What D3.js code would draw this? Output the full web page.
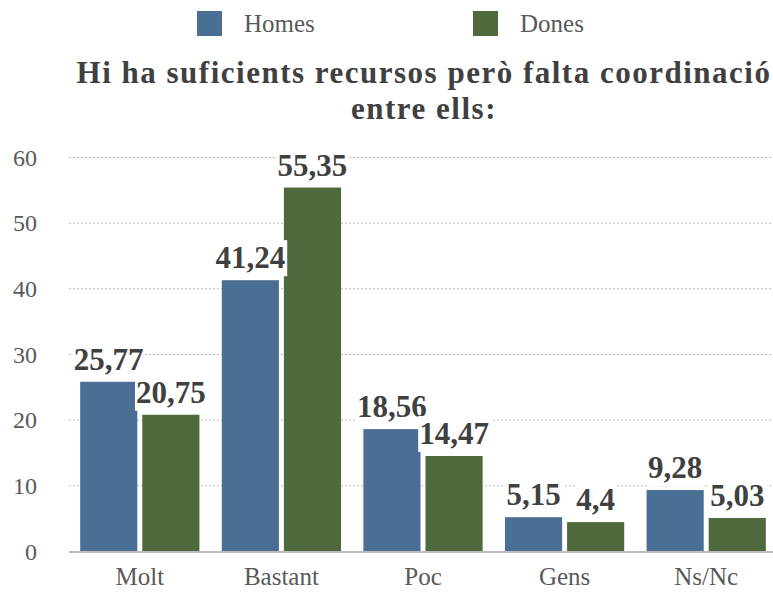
<!DOCTYPE html>
<html><head><meta charset="utf-8">
<script src="https://cdn.jsdelivr.net/npm/d3@7"></script>
<style>body{margin:0;background:#fff}svg{display:block}
svg text{font-family:"Liberation Serif","Tinos","Times New Roman",serif}</style>
</head><body><svg id="c" width="773" height="592"></svg>
<script>
const categories = ["Molt","Bastant","Poc","Gens","Ns/Nc"];
const seriesNames = ["Homes","Dones"];
const homes = [25.77, 41.24, 18.56, 5.15, 9.28];
const dones = [20.75, 55.35, 14.47, 4.4, 5.03];
const yTicks = [0,10,20,30,40,50,60];
const colors = ["#4a6e94","#4e693b"];
const titleLines = ["Hi ha suficients recursos però falta coordinació","entre ells:"];

const svg = d3.select("#c");
const x = d3.scaleBand().domain(categories).range([69, 777]);
const xs = d3.scaleBand().domain(seriesNames).range([0, x.bandwidth()]).paddingInner(0.08).paddingOuter(0.18);
const y = d3.scaleLinear().domain([0,60]).range([551,157]);

// y axis labels
const ga = svg.append("g").call(d3.axisLeft(y).tickValues(yTicks).tickSize(0).tickFormat(d=>d));
ga.select(".domain").remove();
ga.selectAll("text").attr("x",37).attr("dy","8px").attr("text-anchor","end")
  .attr("font-size",24).attr("fill","#595959");

// gridlines
svg.append("g").selectAll("line").data(yTicks.filter(d=>d>0)).join("line")
  .attr("x1",69).attr("x2",773).attr("y1",d=>y(d)+0.5).attr("y2",d=>y(d)+0.5)
  .attr("stroke","#b8b8b8").attr("stroke-dasharray","2,2").attr("stroke-width",1);

const data = categories.map((c,i)=>({c, vals:[homes[i], dones[i]]}));
const groups = svg.append("g").selectAll("g").data(data).join("g")
  .attr("transform",d=>`translate(${x(d.c)},0)`);
groups.selectAll("rect").data(d=>d.vals.map((v,j)=>({s:seriesNames[j],v,j}))).join("rect")
  .attr("x",d=>xs(d.s)).attr("width",xs.bandwidth())
  .attr("y",d=>y(d.v)).attr("height",d=>y(0)-y(d.v)).attr("fill",d=>colors[d.j]);

// baseline
svg.append("line").attr("x1",69).attr("x2",773).attr("y1",y(0)+1).attr("y2",y(0)+1)
  .attr("stroke","#bdbdbd").attr("stroke-width",2);

// x labels
const xa = svg.append("g").attr("transform",`translate(0,${y(0)})`)
  .call(d3.axisBottom(x).tickSize(0).tickPadding(0));
xa.select(".domain").remove();
xa.selectAll("text").attr("y",34).attr("dy",0)
  .attr("font-size",25).attr("fill","#595959");

// value labels with white background
const lab = svg.append("g");
data.forEach(d=>{
  d.vals.forEach((v,j)=>{
    const cx = x(d.c)+xs(seriesNames[j])+xs.bandwidth()/2;
    const g = lab.append("g");
    const t = g.append("text").attr("x",cx).attr("y",y(v)-12).attr("text-anchor","middle")
      .attr("font-size",31).attr("font-weight","bold")
      .attr("fill","#404040").text(String(v).replace(".",","));
    const bb = t.node().getBBox();
    g.insert("rect","text").attr("x",bb.x-1).attr("y",bb.y).attr("width",bb.width+3).attr("height",bb.height+1).attr("fill","#fff");
  });
});

// title
svg.append("g").selectAll("text").data(titleLines).join("text")
  .attr("x",424).attr("y",(d,i)=>83+i*36).attr("text-anchor","middle")
  .attr("font-size",31).attr("font-weight","bold")
  .attr("letter-spacing","1.5px")
  .attr("fill","#404040").text(d=>d);

// legend
const lx = [197, 473];
const lg = svg.append("g").selectAll("g").data(seriesNames).join("g").attr("transform",(d,i)=>`translate(${lx[i]},11)`);
lg.append("rect").attr("width",25).attr("height",25).attr("fill",(d,i)=>colors[i]);
lg.append("text").attr("x",47).attr("y",21).attr("font-size",25)
  .attr("fill","#595959").text(d=>d);
</script></body></html>
